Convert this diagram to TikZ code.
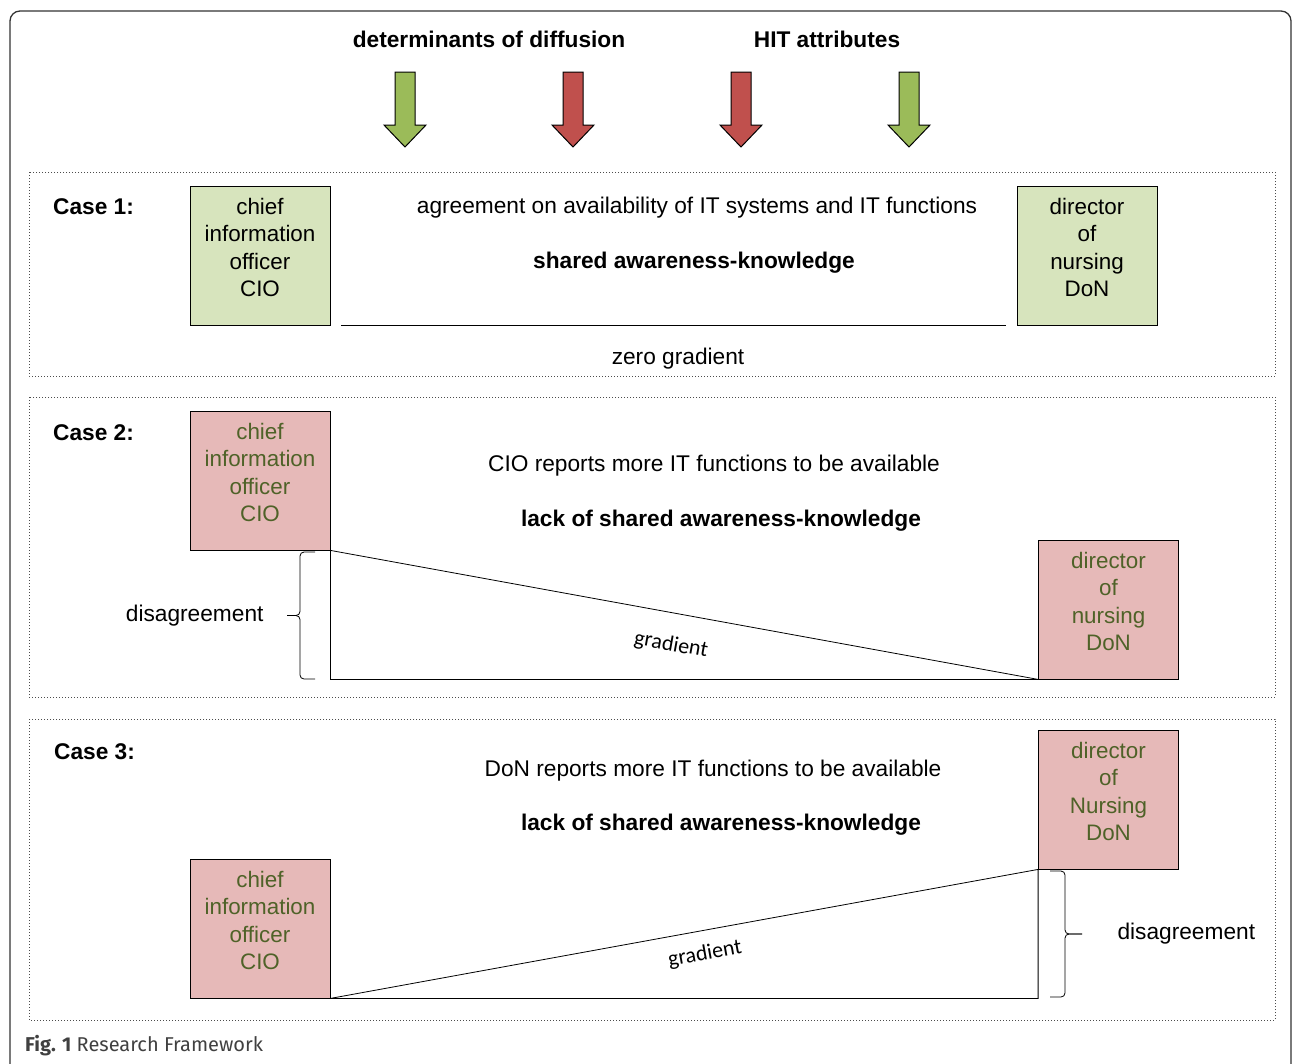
\documentclass[tikz,border=0pt]{standalone}
\usepackage{fontspec}
\setmainfont{Liberation Sans}
\newfontfamily\gradfont{Carlito}
\newfontfamily\capfont{Fira Sans}
\usepackage{tikz}
\definecolor{agreegreen}{RGB}{215,228,189}
\definecolor{lackred}{RGB}{230,185,184}
\definecolor{olivetext}{RGB}{79,98,40}
\definecolor{hitgreen}{RGB}{155,187,89}
\definecolor{hitred}{RGB}{192,80,77}
\tikzset{
  rolebox/.style={draw, line width=0.8pt, minimum width=140pt, minimum height=139pt,
    inner sep=0pt, text depth=16pt, align=center, font=\fontsize{22.4}{27.3}\selectfont},
  agreebox/.style={rolebox, fill=agreegreen},
  lackbox/.style={rolebox, fill=lackred, text=olivetext},
  casebox/.style={draw=black!70, dotted, line width=1pt},
  plain/.style={font=\fontsize{22.7}{27}\selectfont},
  heading/.style={font=\fontsize{22.7}{27}\selectfont\bfseries},
  gradlabel/.style={font=\gradfont\fontsize{22}{26}\selectfont},
  bracket/.style={line width=0.8pt, rounded corners=4pt},
}

\begin{document}
\begin{tikzpicture}[x=1pt,y=1pt]
          \useasboundingbox (0,0) rectangle (1292,-1063);
          % outer frame
          \draw [rounded corners=10pt, line width=1.3pt, black!80] (10,-1075) -- (10,-11) -- (1291,-11) -- (1291,-1075);
          \node [heading] (hdDiff) at (489,-39) {determinants of diffusion};
          \node [heading] (hdHit) at (827,-39) {HIT attributes};
          \foreach \x/\c in {405/hitgreen,573/hitred,741/hitred,909/hitgreen}
            \draw [fill=\c, line width=1pt] (\x-10,-72) -- (\x+10,-72) -- (\x+10,-125) -- (\x+21,-125)
              -- (\x,-147) -- (\x-21,-125) -- (\x-10,-125) -- cycle;
          % case 1
          \draw [casebox] (29,-172) rectangle (1275,-376);
          \node [heading, anchor=west, inner sep=0pt] at (53,-207) {Case 1:};
          \node [agreebox] (cioA) at (260,-255.5) {chief\\information\\officer\\CIO};
          \node [agreebox] (donA) at (1087,-255.5) {director\\of\\nursing\\DoN};
          \node [plain] at (697,-208) {agreement on availability of IT systems and IT functions};
          \node [heading] at (694,-263) {shared awareness-knowledge};
          \draw [line width=0.8pt] ([xshift=11pt]cioA.south east) -- ([xshift=-11pt]donA.south west);
          \node [plain] at (678,-359) {zero gradient};
          % case 2
          \draw [casebox] (29,-397) rectangle (1275,-697);
          \node [heading, anchor=west, inner sep=0pt] at (53,-433) {Case 2:};
          \node [lackbox] (cioB) at (260,-480.5) {chief\\information\\officer\\CIO};
          \node [lackbox] (donB) at (1108.5,-609.5) {director\\of\\nursing\\DoN};
          \node [plain] at (714,-466) {CIO reports more IT functions to be available};
          \node [heading] at (721,-521) {lack of shared awareness-knowledge};
          \draw [line width=0.8pt] (cioB.south east) -- (donB.south west) -- (cioB.south east |- donB.south west) -- cycle;
          \node [gradlabel, rotate=-10.3] at (671,-645) {gradient};
          \coordinate (brB1) at (315,-552);
          \coordinate (brB2) at (315,-679);
          \coordinate (tipB) at (287,-615.5);
          \draw [bracket] (brB1) -| (300,-615.5) -- (tipB);
          \draw [bracket] (brB2) -| (300,-615.5) -- (tipB);
          \node [plain, anchor=east] at ([xshift=-20pt]tipB) {disagreement};
          % case 3
          \draw [casebox] (29,-719) rectangle (1275,-1020);
          \node [heading, anchor=west, inner sep=0pt] at (54,-752) {Case 3:};
          \node [lackbox] (cioC) at (260,-928.5) {chief\\information\\officer\\CIO};
          \node [lackbox] (donC) at (1108.5,-799.5) {director\\of\\Nursing\\DoN};
          \node [plain] at (713,-771) {DoN reports more IT functions to be available};
          \node [heading] at (721,-825) {lack of shared awareness-knowledge};
          \draw [line width=0.8pt] (cioC.south east) -- (donC.south west) -- (donC.south west |- cioC.south east) -- cycle;
          \node [gradlabel, rotate=10.2] at (705,-954) {gradient};
          \coordinate (brC1) at (1050,-871);
          \coordinate (brC2) at (1050,-997);
          \coordinate (tipC) at (1082,-934);
          \draw [bracket] (brC1) -| (1065,-934) -- (tipC);
          \draw [bracket] (brC2) -| (1065,-934) -- (tipC);
          \node [plain, anchor=west] at ([xshift=32pt]tipC) {disagreement};
          % caption
          \node [anchor=west, inner sep=0pt, font=\capfont\fontsize{20}{23}\selectfont, text=black!75] at (25,-1046) {\textbf{Fig. 1} Research Framework};
        \end{tikzpicture}
\end{document}
